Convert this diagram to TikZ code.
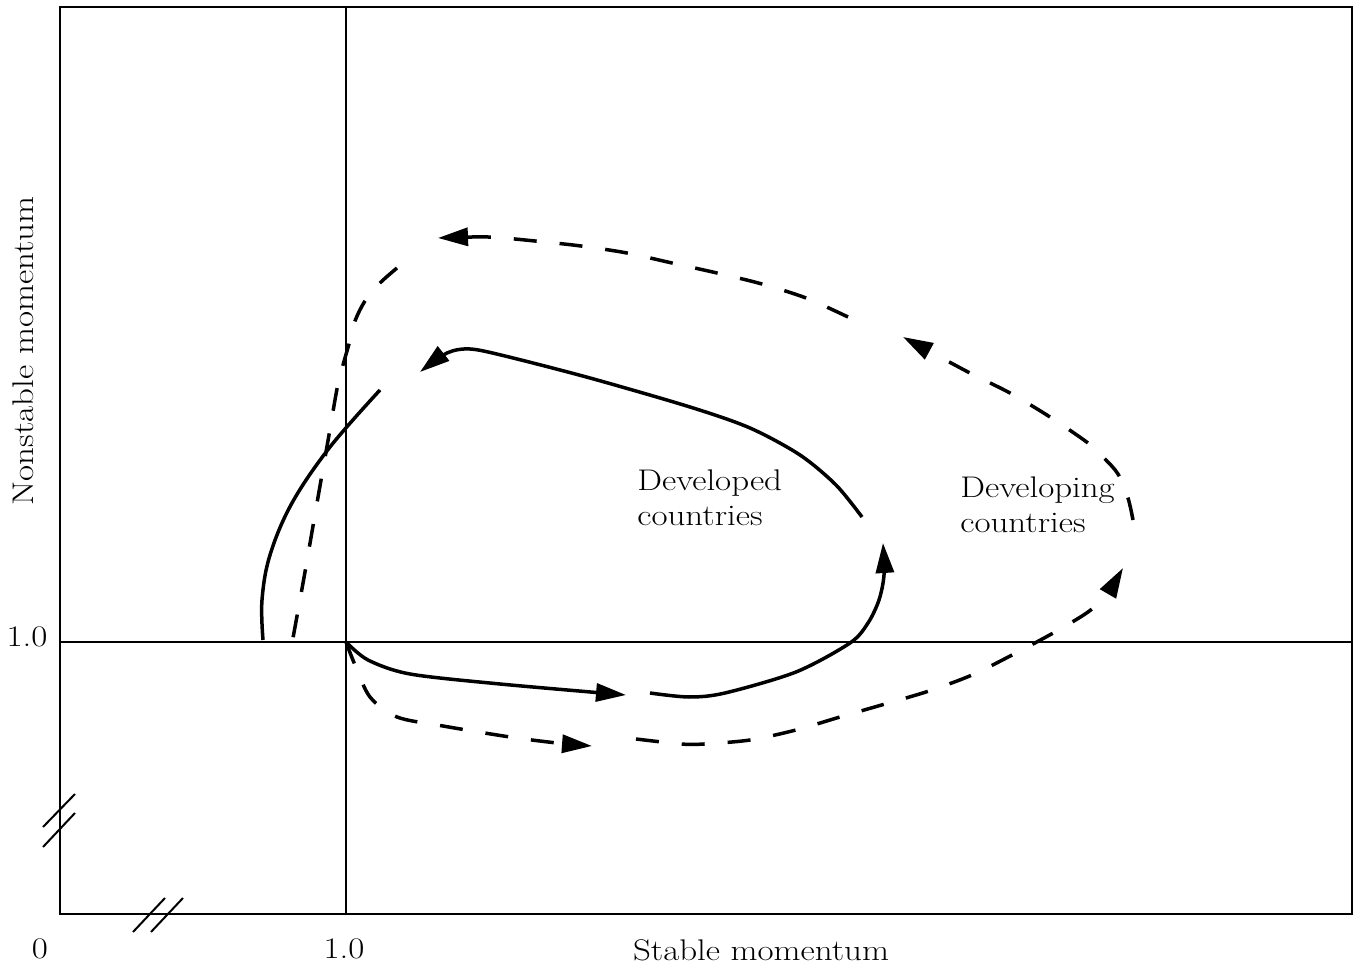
\documentclass[tikz,border=0pt]{standalone}
\usepackage{fontspec}
\usepackage{graphicx}
\usetikzlibrary{arrows.meta}
\newcommand\wtx[1]{\scalebox{1.17}[1]{#1}}
\begin{document}
\begin{tikzpicture}[x=0.02cm,y=-0.02cm,
  ax/.style={line width=0.04cm},
  crv/.style={line width=0.07cm},
  dsh/.style={crv, dash pattern=on 0.46cm off 0.46cm},
  arr/.style={-{Triangle[length=0.6cm,width=0.36cm]}},
  lbl/.style={font=\fontsize{17}{19.9}\selectfont, inner sep=0pt}]
\useasboundingbox (0,0) rectangle (1360,969);
% frame and axes
\coordinate (tl) at (60,7);
\coordinate (br) at (1352,914);
\coordinate (o) at (346,642);
\draw[ax] (tl) rectangle (br);
\draw[ax] (346,7) -- (346,914);
\draw[ax] (60,642) -- (1352,642);
% axis breaks
\draw[ax] (43,827) -- (75,794);
\draw[ax] (43,847) -- (75,813);
\draw[ax] (133,932) -- (165,898);
\draw[ax] (151,932) -- (183,898);
% labels
\node[lbl] (zero) at (40,949) {\wtx{0}};
\node[lbl] (xone) at (344,949) {\wtx{1.0}};
\node[lbl] (xlab) at (761,950) {\wtx{Stable momentum}};
\node[lbl] (yone) at (27,637) {\wtx{1.0}};
\node[lbl, rotate=90] (ylab) at (23,351) {\wtx{Nonstable momentum}};
\node[lbl, anchor=north west, align=left] (dvd) at (637,469) {\wtx{Developed}\\\wtx{countries}};
\node[lbl, anchor=north west, align=left] (dvg) at (960,476) {\wtx{Developing}\\\wtx{countries}};
% developed countries (solid)
\draw[crv,arr] plot[smooth, tension=0.5] coordinates {(346,642) (368,660) (410,674) (500,684) (626,695)};
\draw[crv,arr] plot[smooth, tension=0.5] coordinates {(650,693) (689,697) (725,693) (796,672) (850,643) (868,623) (879,600) (884,575) (883,543)};
\draw[crv,arr] plot[smooth, tension=0.5] coordinates {(862,517) (836,485) (800,455) (750,428) (690,407) (590,378) (505,356) (470,349) (447,353) (420,372)};
\draw[crv] plot[smooth, tension=0.6] coordinates {(380,390) (330,447) (292,503) (270,555) (262,600) (263,640)};
% developing countries (dashed)
\draw[dsh,arr] plot[smooth, tension=0.5] coordinates {(346,642) (355,665) (370,697) (397,717) (443,726) (510,737) (557,743) (592,746)};
\draw[dsh,arr] plot[smooth, tension=0.5] coordinates {(636,739) (681,744) (704,744) (750,740) (796,730) (840,717) (885,704) (929,691) (972,675) (1014,654) (1055,632) (1088,612) (1106,595) (1123,568)};
\draw[dsh,arr] plot[smooth, tension=0.5] coordinates {(1133,520) (1128,498) (1118,474) (1104,458) (1088,443) (1050,417) (1010,393) (968,372) (903,337)};
\draw[dsh,arr] plot[smooth, tension=0.5] coordinates {(848,317) (806,298) (762,284) (717,273) (672,263) (627,253) (581,246) (535,241) (488,237) (438,238)};
\draw[dsh] plot[smooth, tension=0.5] coordinates {(397,268) (380,283) (365,301) (355,321) (349,344) (343,365) (337,389) (329,435) (317,503) (305,572) (293,638)};
\end{tikzpicture}
\end{document}
